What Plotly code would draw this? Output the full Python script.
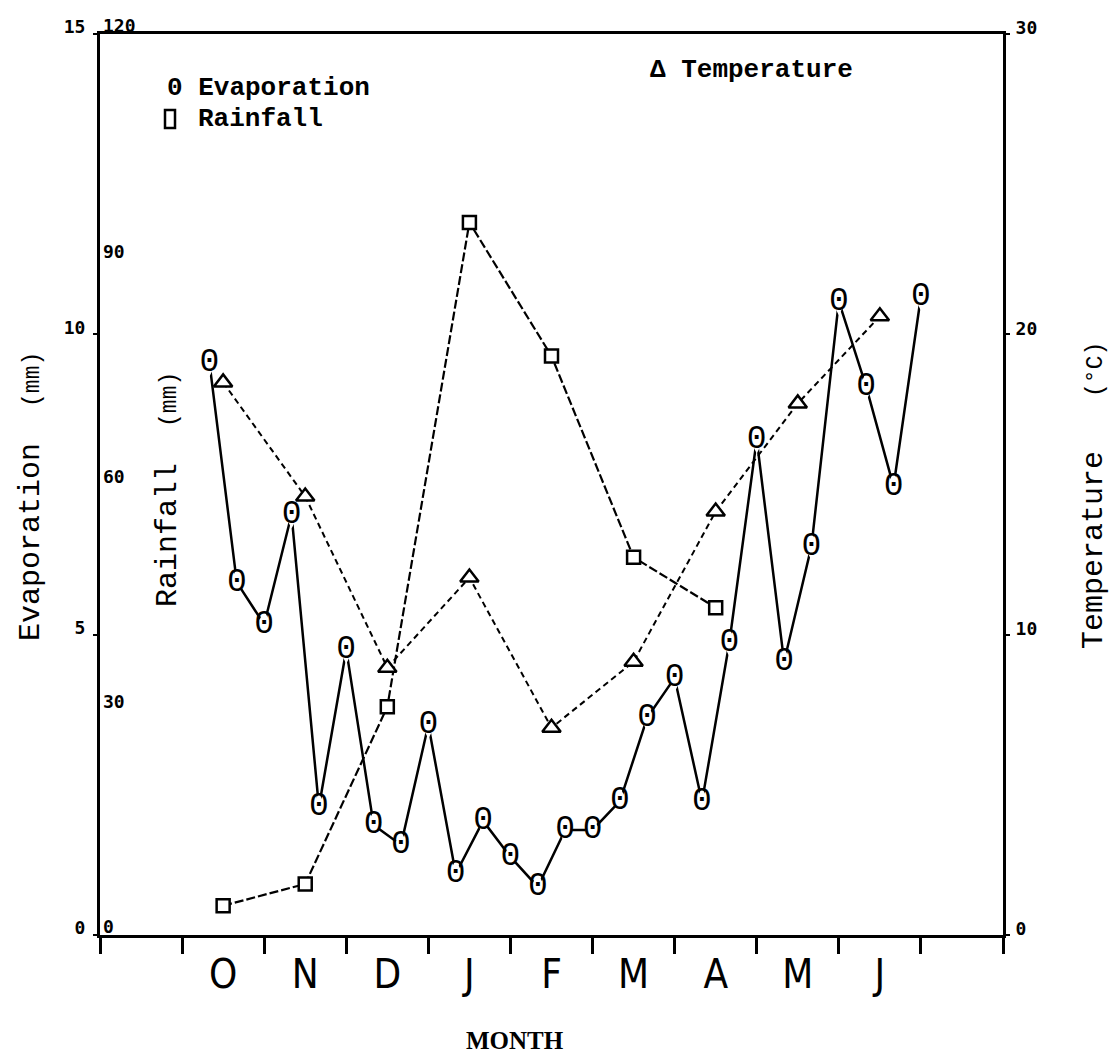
import plotly.graph_objects as go

# Month initials, October to June
months = ["O", "N", "D", "J", "F", "M", "A", "M", "J"]

# Ten-day mean evaporation (mm), first dekad of October to last dekad of June
evaporation = [9.53, 5.87, 5.17, 7.00, 2.13, 4.75, 1.83, 1.50, 3.50,
               1.02, 1.90, 1.30, 0.80, 1.75, 1.75, 2.23, 3.62, 4.28,
               2.22, 4.87, 8.25, 4.55, 6.47, 10.55, 9.13, 7.47, 10.63]

# Monthly rainfall (mm), October to April
rainfall = [3.9, 6.8, 30.4, 94.9, 77.1, 50.3, 43.6]

# Monthly mean temperature (°C), October to June
temperature = [18.4, 14.6, 8.9, 11.9, 6.9, 9.1, 14.1, 17.7, 20.6]

evap_ticks = [0, 5, 10, 15]
rain_ticks = [0, 30, 60, 90, 120]
temp_ticks = [0, 10, 20, 30]

# x axis runs in month units; the first slot is left empty
month_pos = [i + 1.5 for i in range(len(months))]
dekad_pos = [1 + (k + 1) / 3 for k in range(len(evaporation))]

MONO = "Liberation Mono, DejaVu Sans Mono, monospace"
TICKFONT = dict(family="DejaVu Sans Mono", size=18, color="black", weight="bold")

fig = go.Figure()

# evaporation: oval "0" glyphs over a white backing so the line stops at the rim
fig.add_trace(go.Scatter(
    x=dekad_pos, y=evaporation, yaxis="y", name="Evaporation",
    mode="lines+markers+text", text=["0"] * len(evaporation),
    textposition="middle center",
    textfont=dict(family=MONO, size=33, color="black"),
    marker=dict(symbol="diamond-tall", size=20, color="white", line=dict(width=0)),
    line=dict(color="black", width=2.5),
    showlegend=False,
))

# rainfall: open squares on a long-dash line
fig.add_trace(go.Scatter(
    x=month_pos[:len(rainfall)], y=rainfall, yaxis="y2", name="Rainfall",
    mode="lines+markers",
    marker=dict(symbol="square", size=13, color="white",
                line=dict(color="black", width=2.5)),
    line=dict(color="black", width=2.2, dash="9px,3px"),
    showlegend=False,
))

# temperature: open triangles on a short-dash line
fig.add_trace(go.Scatter(
    x=month_pos[:len(temperature)], y=temperature, yaxis="y3", name="Temperature",
    mode="lines+markers",
    marker=dict(symbol="triangle-up", size=16, color="white",
                line=dict(color="black", width=2.5)),
    line=dict(color="black", width=2.0, dash="6px,4px"),
    showlegend=False,
))

W, H = 1113, 1059
L, R, T, B = 100, 110, 34, 124
PW, PH = W - L - R, H - T - B


def px(xp):
    return (xp - L) / PW


def py(yp):
    return (H - B - yp) / PH


LEGFONT = dict(family=MONO, size=26, color="black", weight="bold")

annotations = [
    # legend entries
    dict(text="0 Evaporation", x=px(165), y=py(88), xanchor="left", yanchor="middle",
         font=LEGFONT),
    dict(text="Rainfall", x=px(196), y=py(119), xanchor="left", yanchor="middle",
         font=LEGFONT),
    dict(text="\u0394 Temperature", x=px(855), y=py(70), xanchor="right", yanchor="middle",
         font=LEGFONT),
    # axis titles
    dict(text="Evaporation  <span style='font-size:23px'>(mm)</span>",
         x=px(31), y=py(497), textangle=-90, xanchor="center", yanchor="middle",
         font=dict(family=MONO, size=30, color="black")),
    dict(text="Rainfall  <span style='font-size:23px'>(mm)</span>",
         x=px(168), y=py(490), textangle=-90, xanchor="center", yanchor="middle",
         font=dict(family=MONO, size=30, color="black")),
    dict(text="Temperature   <span style='font-size:23px'>(\u00b0C)</span>",
         x=px(1094), y=py(496), textangle=-90, xanchor="center", yanchor="middle",
         font=dict(family=MONO, size=30, color="black")),
    dict(text="MONTH", x=px(515), y=py(1040), xanchor="center", yanchor="middle",
         font=dict(family="Liberation Serif, serif", size=25, color="black", weight="bold")),
]
for a in annotations:
    a.update(xref="paper", yref="paper", showarrow=False)

# open rectangle used as the rainfall key symbol
shapes = [dict(type="rect", xref="paper", yref="paper",
               x0=px(165), x1=px(175), y0=py(128), y1=py(110),
               line=dict(color="black", width=2.5), fillcolor="white")]

fig.update_layout(
    width=W, height=H, autosize=False,
    margin=dict(l=L, r=R, t=T, b=B, pad=0),
    paper_bgcolor="white", plot_bgcolor="white",
    showlegend=False,
    annotations=annotations,
    shapes=shapes,
    xaxis=dict(
        range=[0, 11], tickmode="array", tickvals=month_pos, ticktext=months,
        ticks="", showline=True, linewidth=3, linecolor="black", mirror=True,
        showgrid=False, zeroline=False, ticklabelstandoff=2,
        tickfont=dict(family="Liberation Sans Narrow, DejaVu Sans Condensed, Liberation Sans",
                      size=40, color="black"),
        minor=dict(ticks="outside", tick0=0, dtick=1, ticklen=16, tickwidth=2.5,
                   tickcolor="black", showgrid=False),
    ),
    yaxis=dict(
        range=[0, 15], tickmode="array", tickvals=evap_ticks,
        showline=True, linewidth=3, linecolor="black",
        ticks="outside", ticklen=4, tickwidth=2, tickcolor="black",
        ticklabelposition="outside", ticklabelshift=-7, ticklabelstandoff=4,
        tickfont=TICKFONT, showgrid=False, zeroline=False,
    ),
    yaxis2=dict(
        range=[0, 120], overlaying="y", side="left", anchor="x",
        tickmode="array", tickvals=rain_ticks, ticks="",
        ticklabelposition="inside", ticklabelshift=-8, ticklabeloverflow="allow",
        tickfont=TICKFONT, showline=False, showgrid=False, zeroline=False,
    ),
    yaxis3=dict(
        range=[0, 30], overlaying="y", side="right", anchor="x",
        tickmode="array", tickvals=temp_ticks,
        showline=True, linewidth=3, linecolor="black",
        ticks="outside", ticklen=4, tickwidth=2, tickcolor="black",
        ticklabelposition="outside", ticklabelshift=-6, ticklabelstandoff=2,
        tickfont=TICKFONT, showgrid=False, zeroline=False,
    ),
)

fig.write_html("out.html")
